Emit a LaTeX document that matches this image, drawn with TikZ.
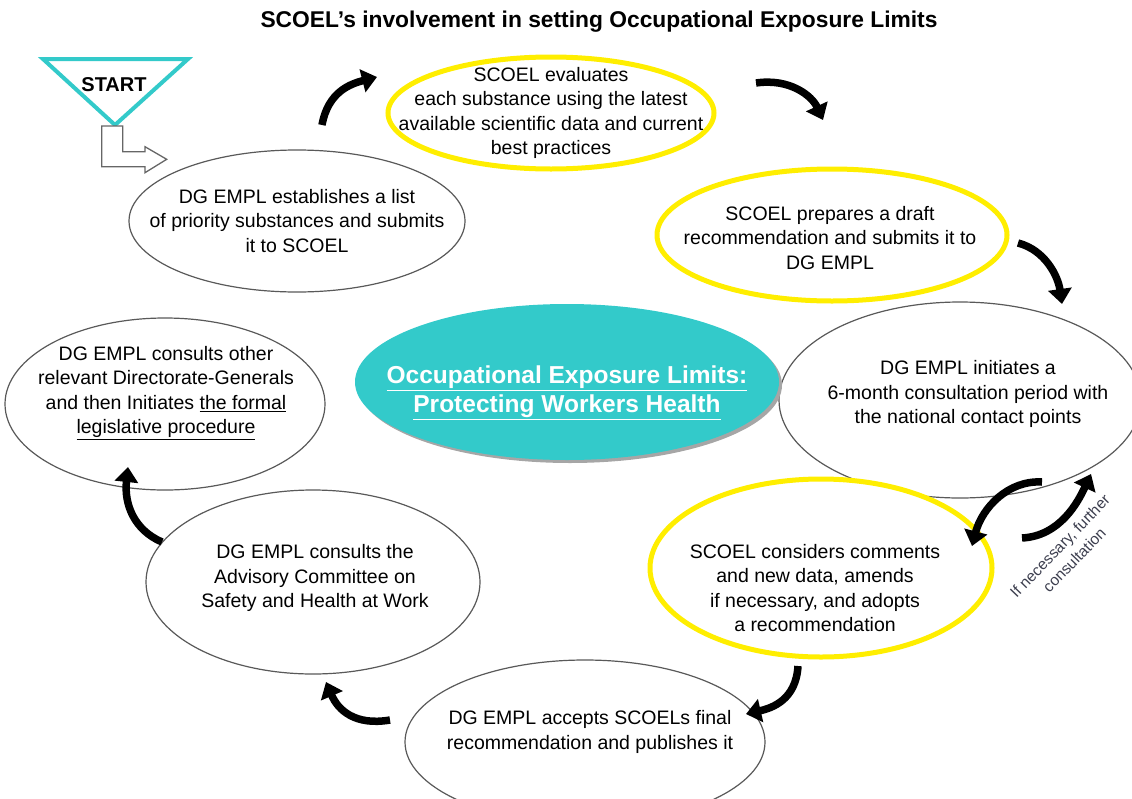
\documentclass[tikz,border=0pt]{standalone}
\usepackage{fontspec}
\setmainfont{Liberation Sans}
\usetikzlibrary{shapes.geometric,arrows.meta,calc}

\definecolor{hiyellow}{RGB}{255,238,0}
\definecolor{teal}{RGB}{51,202,202}
\definecolor{notegray}{RGB}{60,62,78}

\tikzset{
  stage/.style={ellipse, draw=black!65, line width=1.2pt, fill=white, inner sep=0pt},
  scoel/.style={ellipse, draw=hiyellow, line width=5pt, fill=white, inner sep=0pt},
  txt/.style={align=center, font=\fontsize{19.5}{24.6}\selectfont, text=black, inner sep=0pt},
  swoosh/.style={line width=7.5pt, draw=black, -{Triangle[width=23pt,length=15pt]}},
}

\begin{document}
\begin{tikzpicture}[x=1pt,y=-1pt]
\useasboundingbox (0,0) rectangle (1132,798);
\begin{scope}
\clip (0,0) rectangle (1132,798);

% title
\node[font=\bfseries\fontsize{22.8}{26}\selectfont] (title) at (599,22) {SCOEL’s involvement in setting Occupational Exposure Limits};

% process stages
\node[scoel, minimum width=326pt, minimum height=112pt] (e1) at (551,113) {};
\node[scoel, minimum width=350pt, minimum height=132pt] (e2) at (832,235) {};
\node[stage, minimum width=362pt, minimum height=196pt] (e3) at (960,400) {};
\node[scoel, minimum width=342pt, minimum height=178pt] (e4) at (821,568) {};
\node[stage, minimum width=360pt, minimum height=164pt] (e5) at (585,742) {};
\node[stage, minimum width=334pt, minimum height=184pt] (e6) at (313,582) {};
\node[stage, minimum width=320pt, minimum height=172pt] (e7) at (165,404) {};
\node[stage, minimum width=336pt, minimum height=142pt] (e8) at (297,221) {};

% central topic with its shadow
\fill[black!35] (570,385) ellipse [x radius=212, y radius=78];
\node[ellipse, fill=teal, inner sep=0pt, minimum width=424pt, minimum height=156pt] (core) at (567,382) {};
\node[align=center, text=white, font=\bfseries\fontsize{24.5}{29}\selectfont, inner sep=0pt] (coretext) at (567,393)
  {\underline{Occupational Exposure Limits:}\\ \underline{Protecting Workers Health}};

% stage texts
\node[txt] (t1) at (551,113) {SCOEL evaluates\\each substance using the latest\\available scientific data and current\\best practices};
\node[txt] (t2) at (830,238) {SCOEL prepares a draft\\recommendation and submits it to\\DG EMPL};
\node[txt] (t3) at (968,394) {DG EMPL initiates a\\6-month consultation period with\\the national contact points};
\node[txt] (t4) at (815,588) {SCOEL considers comments\\and new data, amends\\if necessary, and adopts\\a recommendation};
\node[txt] (t5) at (590,732) {DG EMPL accepts SCOELs final\\recommendation and publishes it};
\node[txt] (t6) at (315,578) {DG EMPL consults the\\Advisory Committee on\\Safety and Health at Work};
\node[txt] (t7) at (166,393) {DG EMPL consults other\\relevant Directorate-Generals\\and then Initiates \underline{the formal}\\\underline{legislative procedure}};
\node[txt] (t8) at (297,221) {DG EMPL establishes a list\\of priority substances and submits\\it to SCOEL};

% start marker
\draw[draw=teal, line width=4pt, line join=miter, fill=white] (43,59) -- (188,59) -- (115,125) -- cycle;
\node[font=\bfseries\fontsize{20}{22}\selectfont] (start) at (114,85) {START};
\draw[draw=black!60, line width=1.3pt, fill=white]
  (101.7,126) -- (122.7,126) -- (122.7,151.7) -- (145,151.7) -- (145,146.7)
  -- (166.7,159.3) -- (145,172.7) -- (145,166.7) -- (101.7,166.7) -- cycle;

% cycle arrows
\coordinate (a1s) at (322,125);  \coordinate (a1e) at (377,77);
\coordinate (a2s) at (756,83);   \coordinate (a2e) at (823,120);
\coordinate (a3s) at (1018,243); \coordinate (a3e) at (1062,304);
\coordinate (a4s) at (1042,482); \coordinate (a4e) at (972,546);
\coordinate (a5s) at (1022,538); \coordinate (a5e) at (1091,474);
\coordinate (a6s) at (798,666);  \coordinate (a6e) at (746,714);
\coordinate (a7s) at (390,720);  \coordinate (a7e) at (326,682);
\coordinate (a8s) at (162,542);  \coordinate (a8e) at (128,467);

\draw[swoosh] (a1s) .. controls (328,92) and (350,84) .. (a1e);
\draw[swoosh] (a2s) .. controls (790,78) and (812,96) .. (a2e);
\draw[swoosh] (a3s) .. controls (1045,250) and (1058,276) .. (a3e);
\draw[swoosh] (a4s) .. controls (1008,480) and (982,508) .. (a4e);
\draw[swoosh] (a5s) .. controls (1060,536) and (1078,502) .. (a5e);
\draw[swoosh] (a6s) .. controls (796,700) and (772,708) .. (a6e);
\draw[swoosh] (a7s) .. controls (355,726) and (338,710) .. (a7e);
\draw[swoosh] (a8s) .. controls (134,530) and (124,504) .. (a8e);

% note on the repeat loop
\node[rotate=46, align=center, text=notegray, font=\fontsize{15.5}{20}\selectfont, inner sep=0pt] (note) at (1067,553)
  {If necessary, further\\consultation};
\end{scope}
\end{tikzpicture}
\end{document}
